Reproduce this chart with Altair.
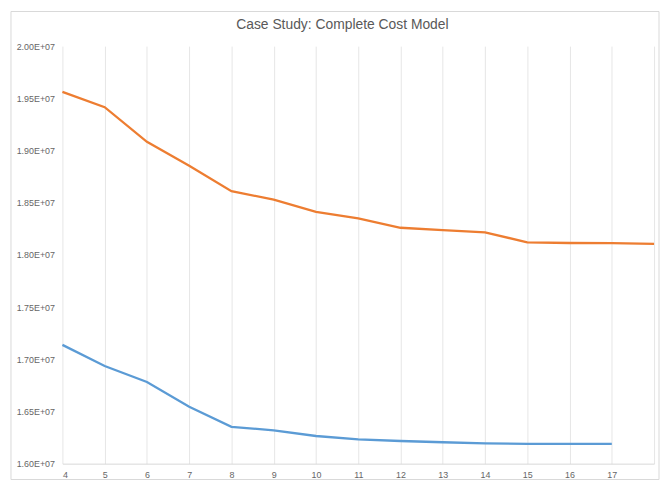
import altair as alt
import pandas as pd

x_vals = [4, 5, 6, 7, 8, 9, 10, 11, 12, 13, 14, 15, 16, 17, 18]
orange_vals = [1.9562e7, 1.9415e7, 1.9083e7, 1.8855e7, 1.8611e7, 1.8529e7, 1.8412e7,
               1.8349e7, 1.8260e7, 1.8238e7, 1.8216e7, 1.8121e7, 1.8114e7, 1.8112e7, 1.8105e7]
blue_x = [4, 5, 6, 7, 8, 9, 10, 11, 12, 13, 14, 15, 16, 17]
blue_vals = [1.7138e7, 1.6935e7, 1.6783e7, 1.6546e7, 1.6353e7, 1.6319e7, 1.6265e7,
             1.6233e7, 1.6217e7, 1.6205e7, 1.6195e7, 1.6189e7, 1.6189e7, 1.6189e7]
series_names = ["Series A", "Series B"]
colors = ["#ED7D31", "#5B9BD5"]
title_text = "Case Study: Complete Cost Model"

rows = [{"x": x, "y": v, "s": series_names[0]} for x, v in zip(x_vals, orange_vals)]
rows += [{"x": x, "y": v, "s": series_names[1]} for x, v in zip(blue_x, blue_vals)]
df = pd.DataFrame(rows)

W, H = 598, 422

lines = alt.Chart(df).mark_line(strokeWidth=2.3).encode(
    x=alt.X("x:Q", scale=alt.Scale(domain=[4, 18], nice=False, zero=False),
            axis=alt.Axis(values=list(range(4, 19)), title=None, grid=True,
                          gridColor="#e6e6e6", gridWidth=1,
                          domain=True, domainColor="#d9d9d9", ticks=False,
                          labelExpr="datum.value == 18 ? '' : datum.label",
                          labelFont="Liberation Sans", labelFontSize=9,
                          labelColor="#666666", labelPadding=7)),
    y=alt.Y("y:Q", scale=alt.Scale(domain=[1.6e7, 2.0e7], nice=False, zero=False),
            axis=alt.Axis(values=[1.6e7 + i * 0.05e7 for i in range(9)], title=None,
                          grid=False, domain=False, ticks=False,
                          labelExpr="format(datum.value / 1e7, '.2f') + 'E+07'",
                          labelFont="Liberation Sans", labelFontSize=9,
                          labelColor="#666666", labelPadding=8)),
    color=alt.Color("s:N", scale=alt.Scale(domain=series_names, range=colors), legend=None),
    detail="s:N",
)

frame = alt.Chart(pd.DataFrame({"a": [0]})).mark_rect(
    fill=None, stroke="#d9d9d9", strokeWidth=1
).encode(
    x=alt.value(-52), x2=alt.value(W + 5),
    y=alt.value(-35), y2=alt.value(H + 16),
)

title = alt.Chart(pd.DataFrame({"t": [title_text]})).mark_text(
    font="Liberation Sans", fontSize=14, color="#595959",
    align="center", baseline="middle"
).encode(
    text="t:N",
    x=alt.value(W / 2 - 16), y=alt.value(-21),
)

chart = alt.layer(frame, lines, title).properties(
    width=W, height=H,
    autosize=alt.AutoSizeParams(type="none"),
    padding={"left": 55, "top": 36, "right": 6, "bottom": 17},
).configure_view(stroke=None)

chart.save("out.html", embed_options={"renderer": "svg", "actions": False})
